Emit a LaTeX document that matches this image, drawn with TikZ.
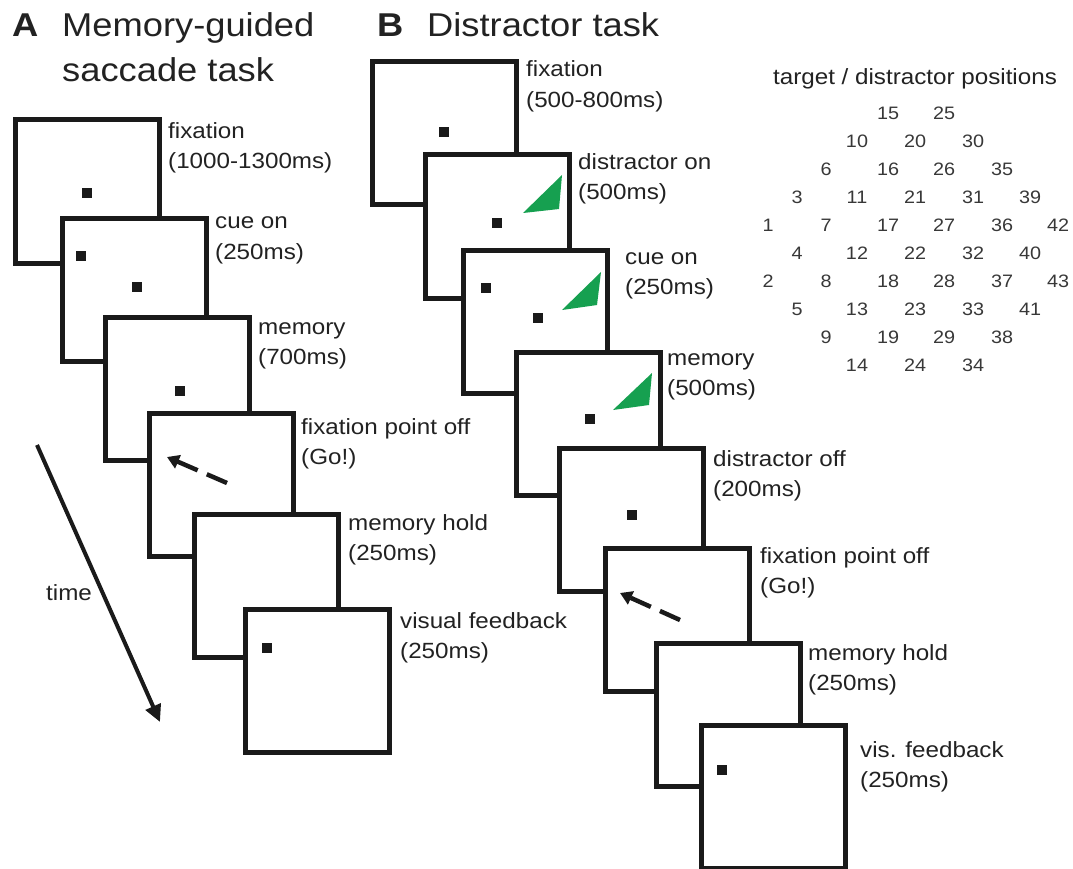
\documentclass[tikz,border=0pt]{standalone}
\usepackage{fontspec}
\setmainfont{Liberation Sans}[FakeStretch=1.1]
\usetikzlibrary{arrows.meta}
\definecolor{ink}{HTML}{1A1A1A}
\definecolor{txt}{HTML}{222222}
\definecolor{cgreen}{RGB}{22,160,80}
\begin{document}
\begin{tikzpicture}[x=1pt,y=-1pt,
  scr/.style={draw=ink, line width=5pt, fill=white, rectangle, anchor=north west,
              minimum width=144pt, minimum height=143pt, inner sep=0pt, outer sep=0pt},
  dotsq/.style={fill=ink, rectangle, minimum size=10pt, inner sep=0pt, outer sep=0pt},
  lab/.style={anchor=base west, inner sep=0pt, text=txt, font=\fontsize{22}{26}\selectfont},
  head/.style={anchor=base west, inner sep=0pt, text=txt, font=\fontsize{33}{38}\selectfont},
  num/.style={anchor=center, inner sep=0pt, text=txt!90, font=\fontsize{18}{20}\selectfont},
  goarrow/.style={draw=ink, line width=4.5pt, dash pattern=on 22pt off 10pt,
                  -{Triangle[length=12pt,width=14pt]}},
  timearrow/.style={draw=ink, line width=4pt, -{Triangle[length=17pt,width=16pt]}},
  tri/.style={fill=cgreen}
]
\useasboundingbox (0,0) rectangle (1073,869);
\fill[white] (0,0) rectangle (1073,869);

% ---------- headers ----------
\node[head, font=\fontsize{33}{38}\selectfont\bfseries] (hA) at (12,37) {A};
\node[head] (hA1) at (62,37) {Memory-guided};
\node[head] (hA2) at (62,82) {saccade task};
\node[head, font=\fontsize{33}{38}\selectfont\bfseries] (hB) at (377,37) {B};
\node[head] (hB1) at (427,37) {Distractor task};

% ---------- panel A ----------
\node[scr] (A1) at (15,120) {};
\node[dotsq] (A1d) at (87,193) {};
\node[scr] (A2) at (62,218) {};
\node[dotsq] (A2c) at (81,256) {};
\node[dotsq] (A2d) at (137,287) {};
\node[scr] (A3) at (105,317) {};
\node[dotsq] (A3d) at (180,391) {};
\node[scr] (A4) at (149,413) {};
\coordinate (A4t) at (227,483);
\coordinate (A4h) at (167,457);
\draw[goarrow] (A4t) -- (A4h);
\node[scr] (A5) at (194,514) {};
\node[scr] (A6) at (245,609) {};
\node[dotsq] (A6d) at (267,648) {};

\node[lab] (lA1a) at (168,139) {fixation};
\node[lab] (lA1b) at (168,169) {(1000-1300ms)};
\node[lab] (lA2a) at (215,229) {cue on};
\node[lab] (lA2b) at (215,259) {(250ms)};
\node[lab] (lA3a) at (258,334) {memory};
\node[lab] (lA3b) at (258,364) {(700ms)};
\node[lab] (lA4a) at (301,434) {fixation point off};
\node[lab] (lA4b) at (301,464) {(Go!)};
\node[lab] (lA5a) at (348,530) {memory hold};
\node[lab] (lA5b) at (348,560) {(250ms)};
\node[lab] (lA6a) at (400,628) {visual feedback};
\node[lab] (lA6b) at (400,658) {(250ms)};

% time arrow
\coordinate (t0) at (37,445);
\coordinate (t1) at (160,722);
\draw[timearrow] (t0) -- (t1);
\node[lab] (ltime) at (46,600) {time};

% ---------- panel B ----------
\node[scr] (B1) at (372,62) {};
\node[dotsq] (B1d) at (444,132) {};
\node[scr] (B2) at (425,155) {};
\node[dotsq] (B2d) at (497,223) {};
\fill[tri] (523,213) -- (562,175) -- (559,209) -- cycle;
\node[scr] (B3) at (463,250) {};
\node[dotsq] (B3c) at (486,288) {};
\node[dotsq] (B3d) at (538,318) {};
\fill[tri] (562,310) -- (601,272) -- (597,305) -- cycle;
\node[scr] (B4) at (516,352) {};
\node[dotsq] (B4d) at (590,419) {};
\fill[tri] (613,410) -- (652,373) -- (649,405) -- cycle;
\node[scr] (B5) at (559,448) {};
\node[dotsq] (B5d) at (632,515) {};
\node[scr] (B6) at (605,548) {};
\coordinate (B6t) at (680,620);
\coordinate (B6h) at (620,593);
\draw[goarrow] (B6t) -- (B6h);
\node[scr] (B7) at (656,643) {};
\node[scr] (B8) at (701,725) {};
\node[dotsq] (B8d) at (722,770) {};

\node[lab] (lB1a) at (526,77) {fixation};
\node[lab] (lB1b) at (526,108) {(500-800ms)};
\node[lab] (lB2a) at (578,170) {distractor on};
\node[lab] (lB2b) at (578,200) {(500ms)};
\node[lab] (lB3a) at (625,264) {cue on};
\node[lab] (lB3b) at (625,294) {(250ms)};
\node[lab] (lB4a) at (667,365) {memory};
\node[lab] (lB4b) at (667,395) {(500ms)};
\node[lab] (lB5a) at (713,466) {distractor off};
\node[lab] (lB5b) at (713,496) {(200ms)};
\node[lab] (lB6a) at (760,563) {fixation point off};
\node[lab] (lB6b) at (760,593) {(Go!)};
\node[lab] (lB7a) at (808,660) {memory hold};
\node[lab] (lB7b) at (808,690) {(250ms)};
\node[lab] (lB8a) at (860,757) {vis. feedback};
\node[lab] (lB8b) at (860,787) {(250ms)};

% ---------- positions grid ----------
\node[lab, anchor=base] (gtitle) at (915,85) {target / distractor positions};
\foreach \n/\x/\y in {1/768/225, 2/768/281, 3/797/197, 4/797/253, 5/797/309,
  6/826/169, 7/826/225, 8/826/281, 9/826/337,
  10/857/141, 11/857/197, 12/857/253, 13/857/309, 14/857/365,
  15/888/113, 16/888/169, 17/888/225, 18/888/281, 19/888/337,
  20/915/141, 21/915/197, 22/915/253, 23/915/309, 24/915/365,
  25/944/113, 26/944/169, 27/944/225, 28/944/281, 29/944/337,
  30/973/141, 31/973/197, 32/973/253, 33/973/309, 34/973/365,
  35/1002/169, 36/1002/225, 37/1002/281, 38/1002/337,
  39/1030/197, 40/1030/253, 41/1030/309,
  42/1058/225, 43/1058/281}
  \node[num] (p\n) at (\x,\y) {\n};
\end{tikzpicture}
\end{document}
